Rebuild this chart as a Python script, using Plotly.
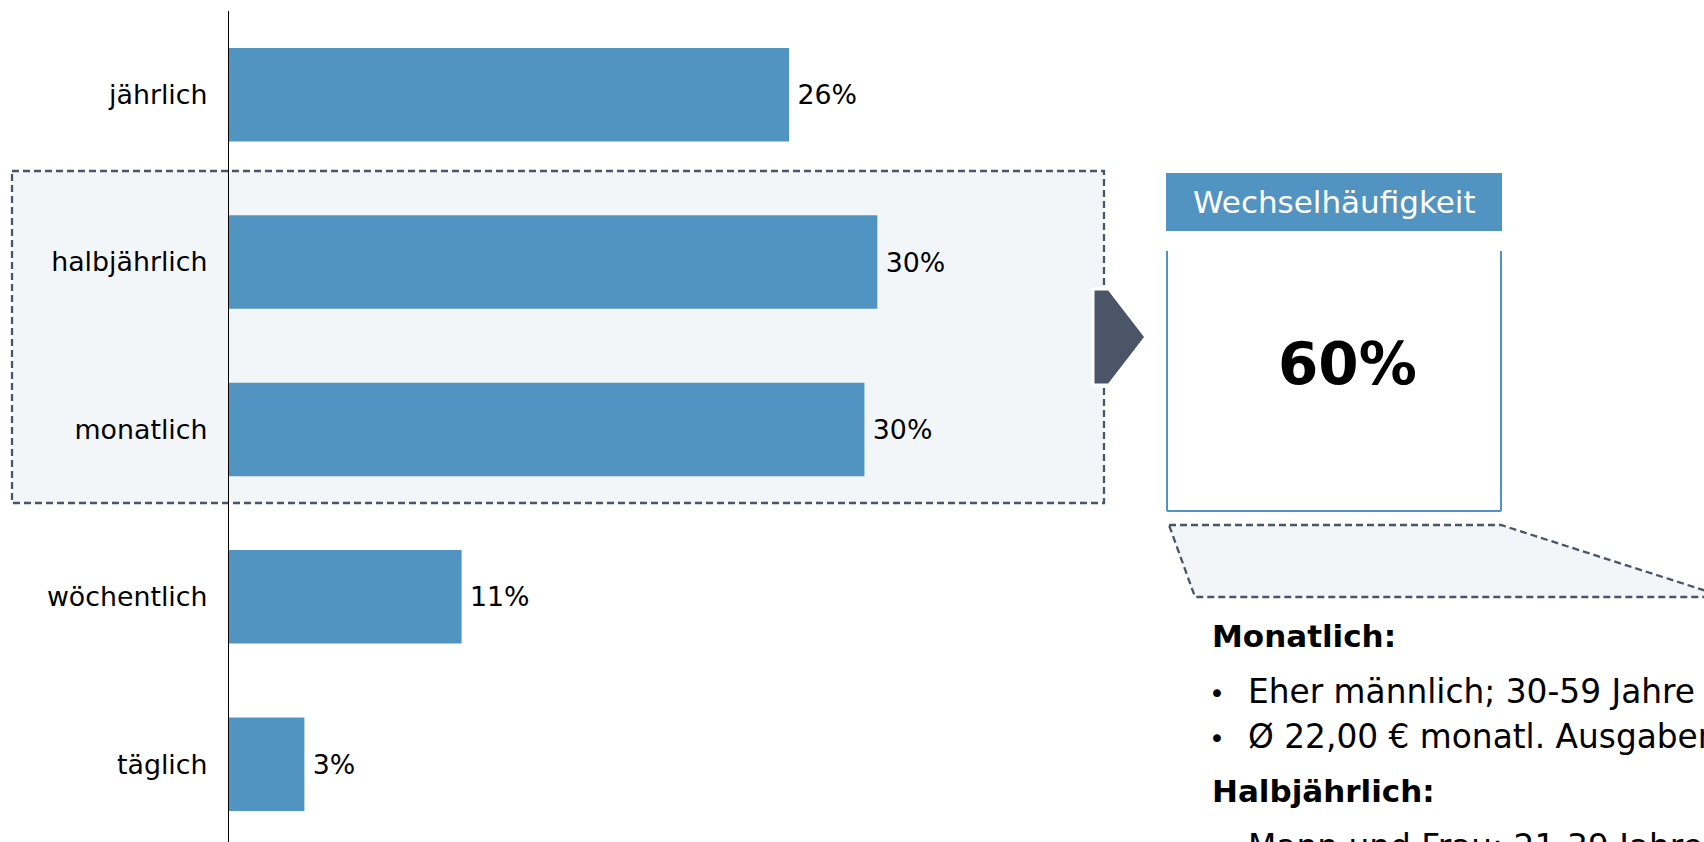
import plotly.graph_objects as go

# ---- data ----
categories = ["jährlich", "halbjährlich", "monatlich", "wöchentlich", "täglich"]
values = [26.0, 30.1, 29.5, 10.8, 3.5]
value_labels = ["26%", "30%", "30%", "11%", "3%"]

header_text = "Wechselhäufigkeit"
highlight_value = "60%"
notes = [
    ("head", "Monatlich:"),
    ("bullet", "Eher männlich; 30-59 Jahre"),
    ("bullet", "Ø 22,00 € monatl. Ausgaben"),
    ("head", "Halbjährlich:"),
    ("bullet", "Mann und Frau; 21-39 Jahre"),
]

# ---- layout helpers ----
W, H = 1704, 842
FONT = "DejaVu Sans"
BLUE = "#5294C1"
SLATE = "#4A5568"
PALE = "#F3F6F9"
DASH = "7px,4px"


def px(x):
    return x / W


def py(y):
    return 1 - y / H


fig = go.Figure()
fig.add_trace(go.Bar(
    y=categories,
    x=values,
    orientation="h",
    marker=dict(color=BLUE, line=dict(width=0)),
    text=value_labels,
    texttemplate="\u2009%{text}",
    textposition="outside",
    textfont=dict(family=FONT, size=26.8, color="#000000"),
    cliponaxis=False,
    hoverinfo="skip",
))

shapes = []
# dashed highlight box behind bars
shapes.append(dict(type="rect", xref="paper", yref="paper",
                   x0=px(12), x1=px(1104), y0=py(171), y1=py(503),
                   fillcolor=PALE, line=dict(color=SLATE, width=2.3, dash=DASH),
                   layer="below"))
# arrow (pentagon)
ax = [1093, 1109, 1146, 1109, 1093]
ay = [289, 289, 337, 385, 385]
path = "M " + " L ".join(f"{px(a)},{py(b)}" for a, b in zip(ax, ay)) + " Z"
shapes.append(dict(type="path", xref="paper", yref="paper", path=path,
                   fillcolor="#4A5668", line=dict(color="#FFFFFF", width=3),
                   layer="above"))
# header box
shapes.append(dict(type="rect", xref="paper", yref="paper",
                   x0=px(1166), x1=px(1502), y0=py(231), y1=py(173),
                   fillcolor=BLUE, line=dict(width=0), layer="above"))
# value box: left, right, bottom borders
for (x0, y0, x1, y1) in [(1167, 251, 1167, 511), (1501, 251, 1501, 511), (1167, 511, 1501, 511)]:
    shapes.append(dict(type="line", xref="paper", yref="paper",
                       x0=px(x0), y0=py(y0), x1=px(x1), y1=py(y1),
                       line=dict(color=BLUE, width=2), layer="above"))
# trapezoid
tx = [1169, 1501, 1725, 1195]
ty = [525, 525, 597, 597]
tpath = "M " + " L ".join(f"{px(a)},{py(b)}" for a, b in zip(tx, ty)) + " Z"
shapes.append(dict(type="path", xref="paper", yref="paper", path=tpath,
                   fillcolor=PALE, line=dict(color=SLATE, width=2.3, dash=DASH),
                   layer="above"))

annotations = []
annotations.append(dict(xref="paper", yref="paper", x=px(1334), y=py(202),
                        text=header_text, showarrow=False, xanchor="center", yanchor="middle",
                        font=dict(family=FONT, size=31, color="#FFFFFF")))
annotations.append(dict(xref="paper", yref="paper", x=px(1347), y=py(364),
                        text=f"<b>{highlight_value}</b>", showarrow=False,
                        xanchor="center", yanchor="middle",
                        font=dict(family=FONT, size=58, color="#000000")))

note_y = [636, 692, 737, 791, 847]
for (kind, txt), yy in zip(notes, note_y):
    if kind == "head":
        annotations.append(dict(xref="paper", yref="paper", x=px(1210), y=py(yy),
                                text=f"<b>{txt}</b>", showarrow=False,
                                xanchor="left", yanchor="middle",
                                font=dict(family=FONT, size=31, color="#000000")))
    else:
        annotations.append(dict(xref="paper", yref="paper", x=px(1207), y=py(yy + 1),
                                text="•", showarrow=False,
                                xanchor="left", yanchor="middle",
                                font=dict(family=FONT, size=27, color="#000000")))
        annotations.append(dict(xref="paper", yref="paper", x=px(1246), y=py(yy),
                                text=txt, showarrow=False,
                                xanchor="left", yanchor="middle",
                                font=dict(family=FONT, size=32.8, color="#000000")))

fig.update_layout(
    width=W, height=H,
    margin=dict(l=0, r=0, t=0, b=0, pad=0),
    paper_bgcolor="#FFFFFF",
    plot_bgcolor="rgba(0,0,0,0)",
    showlegend=False,
    bargap=0.441,
    shapes=shapes,
    annotations=annotations,
    xaxis=dict(domain=[px(229), px(1104)], range=[0, 875 / 21.54],
               visible=False, showgrid=False, zeroline=False),
    yaxis=dict(domain=[0, py(11)], type="category",
               categoryorder="array", categoryarray=categories,
               range=[4.465, -0.5], showline=True, linecolor="#000000", linewidth=1.2,
               ticks="", showgrid=False, zeroline=False, ticklabelstandoff=15,
               tickfont=dict(family=FONT, size=26.8, color="#000000")),
)

fig.write_html("out.html")
